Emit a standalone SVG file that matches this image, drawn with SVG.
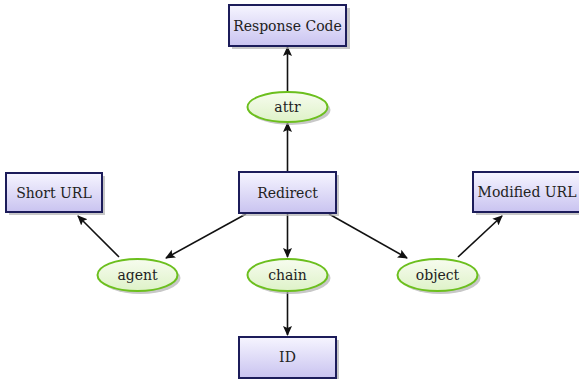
<svg xmlns="http://www.w3.org/2000/svg" width="579" height="379" viewBox="0 0 579 379">
<defs>
<linearGradient id="boxg" x1="0" y1="0" x2="0" y2="1">
<stop offset="0" stop-color="#f6f5ff"/>
<stop offset="1" stop-color="#c9c3f0"/>
</linearGradient>
<linearGradient id="ellg" x1="0" y1="0" x2="0" y2="1">
<stop offset="0" stop-color="#f7fcef"/>
<stop offset="1" stop-color="#def2c8"/>
</linearGradient>
<marker id="arr" viewBox="0 0 10 10" refX="9" refY="5" markerWidth="10" markerHeight="10" markerUnits="userSpaceOnUse" orient="auto">
<path d="M0,0.5 L10,5 L0,9.5 L2,5 Z" fill="#111"/>
</marker>
<style>
.box{fill:url(#boxg);stroke:#1c1c5a;stroke-width:2}
.ell{fill:url(#ellg);stroke:#6cbf1e;stroke-width:2}
.sh{fill:#b0b0b0;opacity:0.7}
.t{font-family:'DejaVu Serif','Liberation Serif',serif;font-size:14px;fill:#222;text-anchor:middle;dominant-baseline:central}
.c{stroke:#111;stroke-width:1.6;fill:none;marker-end:url(#arr)}
</style>
</defs>
<g id="connectors">
<line class="c" x1="287.5" y1="91" x2="287.5" y2="47"/>
<line class="c" x1="287.5" y1="171" x2="287.5" y2="123"/>
<line class="c" x1="246" y1="214" x2="166" y2="258"/>
<line class="c" x1="119" y1="257" x2="78" y2="216"/>
<line class="c" x1="287.5" y1="214" x2="287.5" y2="257"/>
<line class="c" x1="287.5" y1="292" x2="287.5" y2="335"/>
<line class="c" x1="329" y1="214" x2="407" y2="258"/>
<line class="c" x1="458" y1="257" x2="502" y2="216"/>
</g>
<g id="response-code">
<rect class="sh" x="232" y="8" width="118" height="41"/>
<rect class="box" x="229" y="5" width="117" height="41"/>
<text class="t" x="287.5" y="26">Response Code</text>
</g>
<g id="attr">
<ellipse class="sh" cx="290.5" cy="110" rx="40" ry="15"/>
<ellipse class="ell" cx="287.5" cy="107" rx="40" ry="15"/>
<text class="t" x="287.5" y="107">attr</text>
</g>
<g id="redirect">
<rect class="sh" x="242" y="175" width="97" height="41"/>
<rect class="box" x="239" y="172" width="97" height="41"/>
<text class="t" x="287.5" y="193">Redirect</text>
</g>
<g id="short-url">
<rect class="sh" x="9" y="176" width="96" height="39"/>
<rect class="box" x="6" y="173" width="96" height="39"/>
<text class="t" x="54" y="193">Short URL</text>
</g>
<g id="modified-url">
<rect class="sh" x="476" y="175" width="106" height="40"/>
<rect class="box" x="473" y="172" width="108" height="40"/>
<text class="t" x="527" y="192">Modified URL</text>
</g>
<g id="agent">
<ellipse class="sh" cx="140.5" cy="278" rx="40" ry="16"/>
<ellipse class="ell" cx="137.5" cy="275" rx="40" ry="16"/>
<text class="t" x="137.5" y="275">agent</text>
</g>
<g id="chain">
<ellipse class="sh" cx="290.5" cy="278" rx="40" ry="16"/>
<ellipse class="ell" cx="287.5" cy="275" rx="40" ry="16"/>
<text class="t" x="287.5" y="275">chain</text>
</g>
<g id="object">
<ellipse class="sh" cx="440.5" cy="278" rx="40" ry="16"/>
<ellipse class="ell" cx="437.5" cy="275" rx="40" ry="16"/>
<text class="t" x="437.5" y="275">object</text>
</g>
<g id="id">
<rect class="sh" x="242" y="340" width="97" height="41"/>
<rect class="box" x="239" y="337" width="97" height="41"/>
<text class="t" x="287.5" y="357">ID</text>
</g>
</svg>
